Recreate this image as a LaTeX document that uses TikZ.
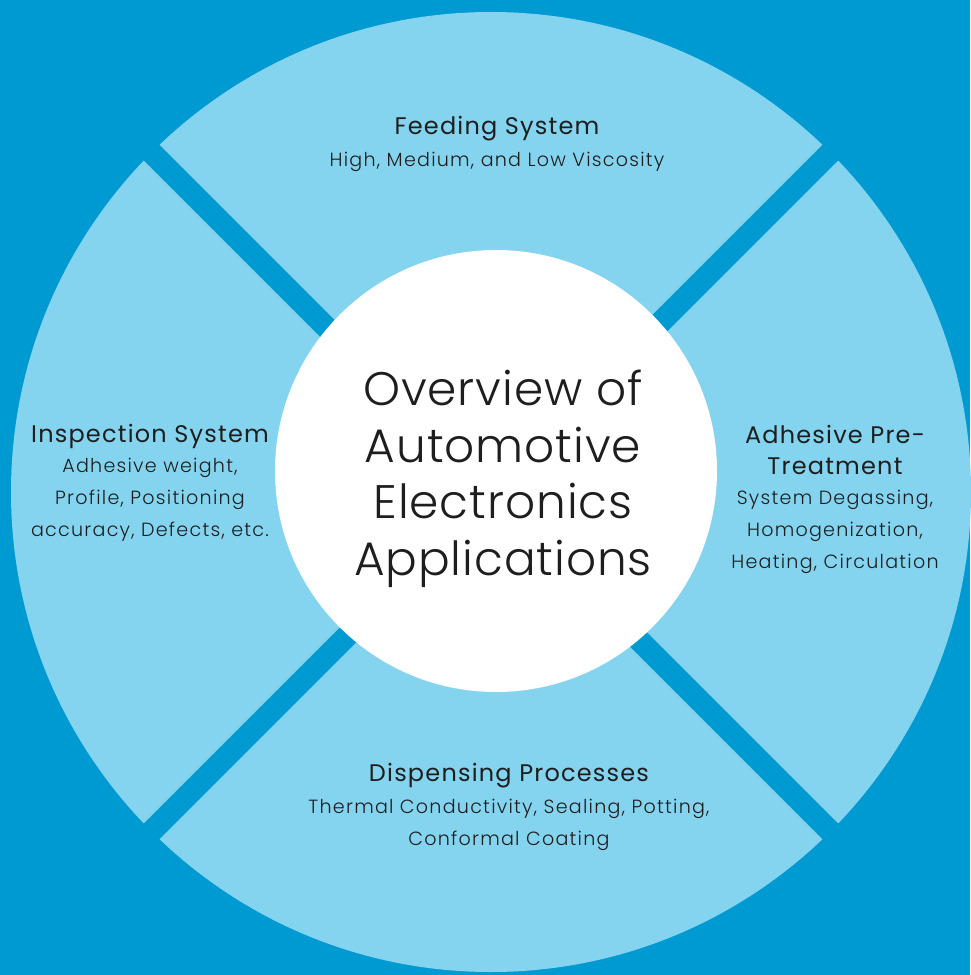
\documentclass[tikz,border=0pt]{standalone}
\usepackage{fontspec}
\IfFontExistsTF{Poppins Light}{\setmainfont{Poppins Light}}{\setmainfont{Poppins}}
\newfontfamily\ttlfont[LetterSpace=5]{Poppins}
\definecolor{darkblue}{HTML}{009AD3}
\definecolor{lightblue}{HTML}{85D4EF}
\definecolor{txt}{HTML}{1E1E1E}
\begin{document}
\begin{tikzpicture}[x=1pt,y=-1pt,
  title/.style={font=\ttlfont\fontsize{24}{31.5}\selectfont, text=txt, align=center, inner sep=0pt},
  sub/.style={font=\fontsize{19.1}{32}\selectfont\addfontfeatures{LetterSpace=6.5}, text=txt, align=center, inner sep=0pt},
  stripe/.style={draw=darkblue, line width=22pt}]
\fill[darkblue] (0,0) rectangle (970,975);
\useasboundingbox (0,0) rectangle (970,975);
\coordinate (c) at (491,492);
\fill[lightblue] (c) circle[radius=480];
\coordinate (tl) at (91,92);
\coordinate (tr) at (891,92);
\coordinate (bl) at (91,892);
\coordinate (br) at (891,892);
\draw[stripe] (c) -- (tl);
\draw[stripe] (c) -- (tr);
\draw[stripe] (c) -- (bl);
\draw[stripe] (c) -- (br);
\node[circle, fill=white, minimum size=442pt, inner sep=0pt] (hub) at (496,471) {};
\node[font=\fontsize{47}{56.5}\selectfont\addfontfeatures{LetterSpace=2}, text=txt, align=center, inner sep=0pt] (center) at (503,479) {Overview of\\Automotive\\Electronics\\Applications};
\node[title] (feed) at (497,129) {Feeding System};
\node[sub] (feedsub) at (497,162) {High, Medium, and Low Viscosity};
\node[title] (insp) at (150,436) {Inspection System};
\node[sub] (inspsub) at (150,500) {Adhesive weight,\\Profile, Positioning\\accuracy, Defects, etc.};
\node[title] (adh) at (835,450) {Adhesive Pre-\\Treatment};
\node[sub] (adhsub) at (835,532) {System Degassing,\\Homogenization,\\Heating, Circulation};
\node[title] (disp) at (509,776) {Dispensing Processes};
\node[sub] (dispsub) at (509,825) {Thermal Conductivity, Sealing, Potting,\\Conformal Coating};
\end{tikzpicture}
\end{document}
